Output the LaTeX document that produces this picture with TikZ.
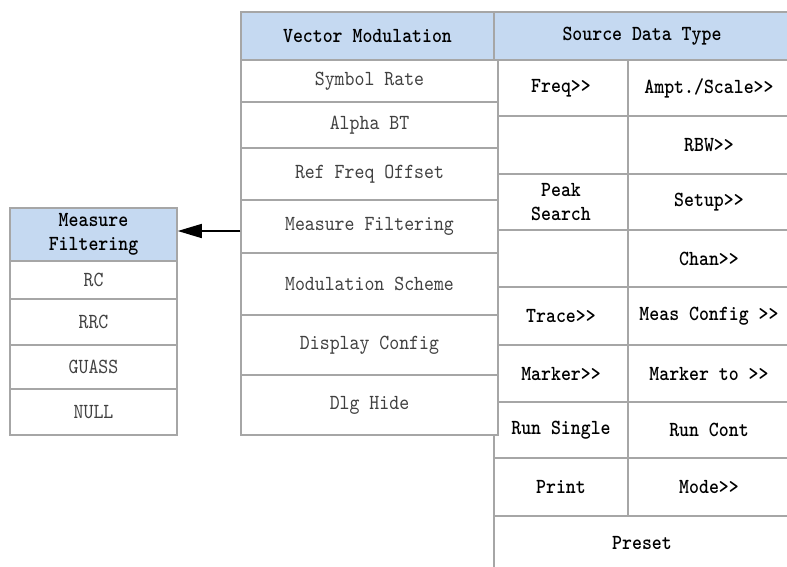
\documentclass[tikz,border=0pt]{standalone}
\usepackage{fontspec}
\usetikzlibrary{arrows.meta}
\newfontfamily\cellfont{lmmono10-regular}[Extension=.otf, BoldFont=lmmonolt10-bold, FakeStretch=0.88]
\definecolor{bord}{RGB}{166,166,166}
\definecolor{hdr}{RGB}{197,217,241}
\definecolor{txtg}{RGB}{64,64,64}
\begin{document}
\begin{tikzpicture}[x=1pt,y=-1pt,
  cell/.style={draw=bord, line width=1.5pt, fill=white, inner sep=0pt, align=center,
    font=\cellfont\fontsize{21.5}{24}\selectfont, text=txtg},
  hcell/.style={cell, fill=hdr, text=black, font=\cellfont\bfseries\fontsize{21.5}{24}\selectfont},
  rcell/.style={cell, text=black, font=\cellfont\bfseries\fontsize{21.5}{24}\selectfont},
  cA/.style={rcell, minimum width=134pt},
  cB/.style={rcell, minimum width=162pt},
  mid/.style={cell, minimum width=257pt},
  lft/.style={cell, minimum width=167pt},
  conn/.style={line width=1.5pt, -{Triangle[length=24pt,width=14pt]}}
]
\useasboundingbox (0,0) rectangle (787,566);
\begin{scope}
\clip (0,0) rectangle (787,566);
% right table
\node[hcell, minimum width=296pt, minimum height=48pt] (sdH) at (642,36) {Source Data Type};
\node[cA, minimum height=56pt] (a1) at (561,88) {Freq>>};
\node[cB, minimum height=56pt] (b1) at (709,88) {Ampt./Scale>>};
\node[cA, minimum height=58pt] (a2) at (561,145) {};
\node[cB, minimum height=58pt] (b2) at (709,145) {RBW>>};
\node[cA, minimum height=56pt] (a3) at (561,202) {Peak\\Search};
\node[cB, minimum height=56pt] (b3) at (709,202) {Setup>>};
\node[cA, minimum height=57pt] (a4) at (561,258.5) {};
\node[cB, minimum height=57pt] (b4) at (709,258.5) {Chan>>};
\node[cA, minimum height=58pt] (a5) at (561,316) {Trace>>};
\node[cB, minimum height=58pt] (b5) at (709,316) {Meas Config >>};
\node[cA, minimum height=57pt] (a6) at (561,373.5) {Marker>>};
\node[cB, minimum height=57pt] (b6) at (709,373.5) {Marker to >>};
\node[cA, minimum height=56pt] (a7) at (561,430) {Run Single};
\node[cB, minimum height=56pt] (b7) at (709,430) {Run Cont};
\node[cA, minimum height=58pt] (a8) at (561,487) {Print};
\node[cB, minimum height=58pt] (b8) at (709,487) {Mode>>};
\node[rcell, minimum width=296pt, minimum height=54pt] (pre) at (642,543) {Preset};
% middle table
\node[mid, minimum height=42pt] (sr) at (369.5,81) {Symbol Rate};
\node[mid, minimum height=46pt] (ab) at (369.5,125) {Alpha BT};
\node[mid, minimum height=52pt] (rf) at (369.5,174) {Ref Freq Offset};
\node[mid, minimum height=53pt] (mf) at (369.5,226.5) {Measure Filtering};
\node[mid, minimum height=62pt] (ms) at (369.5,284) {Modulation Scheme};
\node[mid, minimum height=60pt] (dc) at (369.5,345) {Display Config};
\node[mid, minimum height=60pt] (dh) at (369.5,405) {Dlg Hide};
\node[hcell, minimum width=253pt, minimum height=48pt] (vmH) at (367.5,36) {Vector Modulation};
% left table
\node[hcell, minimum width=167pt, minimum height=53pt] (lfH) at (93.5,234.5) {Measure\\Filtering};
\node[lft, minimum height=38pt] (rc) at (93.5,280) {RC};
\node[lft, minimum height=46pt] (rrc) at (93.5,322) {RRC};
\node[lft, minimum height=44pt] (gu) at (93.5,367) {GUASS};
\node[lft, minimum height=46pt] (nu) at (93.5,412) {NULL};
% connector
\draw[conn] ([yshift=-4.5pt]mf.west) -- ([yshift=-4.5pt]mf.west -| lfH.east);
\end{scope}
\end{tikzpicture}
\end{document}
